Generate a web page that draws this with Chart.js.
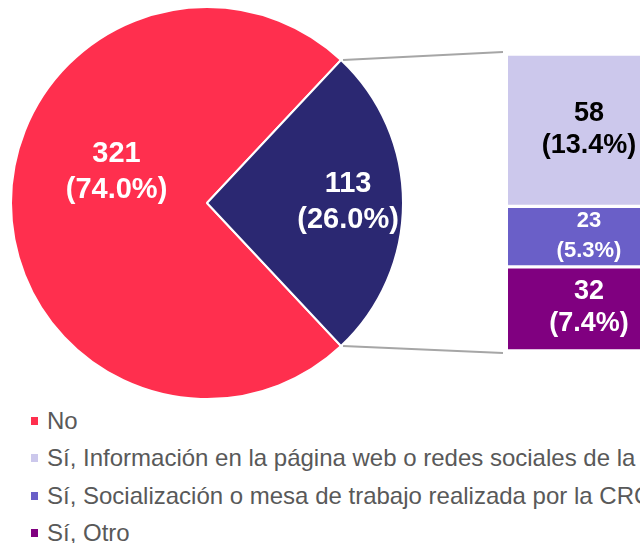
<!DOCTYPE html>
<html>
<head>
<meta charset="utf-8">
<script src="https://cdn.jsdelivr.net/npm/chart.js@4"></script>
<style>
  html, body { margin: 0; padding: 0; background: #fff; }
  #wrap { position: relative; width: 640px; height: 543px; overflow: hidden; font-family: "Liberation Sans", Arial, sans-serif; }
  #pie { position: absolute; left: 10px; top: 6px; }
  #bar { position: absolute; left: 508px; top: 54px; }
  #lines { position: absolute; left: 0; top: 0; }
  #legend { position: absolute; left: 0; top: 404px; width: 640px; }
  .item { position: absolute; left: 31px; padding-left: 16px; white-space: nowrap; font-size: 24px; color: #595959; height: 28px; line-height: 28px; }
  .box { position: absolute; left: 0; top: 10px; width: 7px; height: 8px; }
</style>
</head>
<body>
<div id="wrap">
  <canvas id="lines" width="640" height="400"></canvas>
  <canvas id="pie" width="394" height="394"></canvas>
  <canvas id="bar" width="162" height="297"></canvas>
  <div id="legend"></div>
</div>
<script>
// datos
let pieLabels = ['No', 'Sí'];
let pieValues = [321, 113];
let pieColors = ['#FF2F4E', '#2B2872'];

let barLabels = ['Sí, Información en la página web o redes sociales de la CRC',
                 'Sí, Socialización o mesa de trabajo realizada por la CRC',
                 'Sí, Otro'];
let barValues = [58, 23, 32];
let barColors = ['#CCC8EC', '#6A5FC8', '#800080'];
let barTextColors = ['#000000', '#ffffff', '#ffffff'];

let total = pieValues.reduce((a, b) => a + b, 0);
let pct = v => (v / total * 100).toFixed(1) + '%';

// label placement inside the pie (angle in degrees, fraction of radius)
let pieLabelPos = [{ ang: 199.6, r: 0.49 }, { ang: -1, r: 0.72 }];

var labelPlugin = {
    id: 'labels',
    afterDatasetsDraw(chart) {
        let ctx = chart.ctx;
        let meta = chart.getDatasetMeta(0);
        ctx.save();
        ctx.textAlign = 'center';
        ctx.textBaseline = 'middle';
        meta.data.forEach((arc, i) => {
            let p = pieLabelPos[i];
            let a = p.ang * Math.PI / 180;
            let x = arc.x + Math.cos(a) * arc.outerRadius * p.r;
            let y = arc.y + Math.sin(a) * arc.outerRadius * p.r;
            ctx.fillStyle = '#fff';
            ctx.font = 'bold 29px "Liberation Sans", Arial';
            ctx.fillText(pieValues[i], x, y - 17);
            ctx.fillText('(' + pct(pieValues[i]) + ')', x, y + 19);
        });
        ctx.restore();
    }
};

var pieChart = new Chart(document.getElementById('pie').getContext('2d'), {
    type: 'pie',
    data: {
        labels: pieLabels,
        datasets: [{
            data: pieValues,
            backgroundColor: pieColors,
            borderColor: '#fff',
            borderWidth: 2
        }]
    },
    options: {
        responsive: false,
        animation: false,
        // "Sí" centred on the right side
        rotation: 90 + pieValues[1] / total * 180,
        layout: { padding: 0 },
        plugins: { legend: { display: false }, tooltip: { enabled: false } }
    },
    plugins: [labelPlugin]
});

// stacked bar: first dataset ends at the bottom, so reverse
let order = [2, 1, 0];
var barLabelPlugin = {
    id: 'barlabels',
    afterDatasetsDraw(chart) {
        let ctx = chart.ctx;
        ctx.save();
        ctx.textAlign = 'center';
        ctx.textBaseline = 'middle';
        chart.data.datasets.forEach((ds, d) => {
            let i = order[d];
            let el = chart.getDatasetMeta(d).data[0];
            let cy = (el.y + el.base) / 2;
            let size = barValues[i] < 30 ? 22 : 27;
            let gap = barValues[i] < 30 ? 15 : 16;
            ctx.fillStyle = barTextColors[i];
            ctx.font = 'bold ' + size + 'px "Liberation Sans", Arial';
            ctx.fillText(barValues[i], el.x, cy - gap - 1);
            ctx.fillText('(' + pct(barValues[i]) + ')', el.x, cy + gap - 1);
        });
        ctx.restore();
    }
};

var barChart = new Chart(document.getElementById('bar').getContext('2d'), {
    type: 'bar',
    data: {
        labels: [''],
        datasets: order.map(i => ({
            label: barLabels[i],
            data: [barValues[i]],
            backgroundColor: barColors[i],
            borderColor: '#fff',
            borderWidth: { top: 2, bottom: 2, left: 0, right: 0 },
            borderSkipped: false,
            barPercentage: 1,
            categoryPercentage: 1
        }))
    },
    options: {
        responsive: false,
        animation: false,
        layout: { padding: 0 },
        scales: {
            x: { stacked: true, display: false },
            y: { stacked: true, display: false, min: 0, max: pieValues[1] }
        },
        plugins: { legend: { display: false }, tooltip: { enabled: false } }
    },
    plugins: [barLabelPlugin]
});

// connector lines between the "Sí" slice and the bar
(function () {
    let pieCv = document.getElementById('pie');
    let barCv = document.getElementById('bar');
    let arc = pieChart.getDatasetMeta(0).data[1];
    let ox = pieCv.offsetLeft, oy = pieCv.offsetTop;
    let bx = barCv.offsetLeft, by = barCv.offsetTop;
    let topEl = barChart.getDatasetMeta(2).data[0];
    let botEl = barChart.getDatasetMeta(0).data[0];
    let ctx = document.getElementById('lines').getContext('2d');
    ctx.strokeStyle = '#A6A6A6';
    ctx.lineWidth = 2;
    let p1 = [ox + arc.x + Math.cos(arc.startAngle) * arc.outerRadius + 2, oy + arc.y + Math.sin(arc.startAngle) * arc.outerRadius];
    let p2 = [ox + arc.x + Math.cos(arc.endAngle) * arc.outerRadius + 2, oy + arc.y + Math.sin(arc.endAngle) * arc.outerRadius];
    ctx.beginPath();
    ctx.moveTo(p1[0], p1[1]);
    ctx.lineTo(bx - 5, by + topEl.y - 2);
    ctx.moveTo(p2[0], p2[1]);
    ctx.lineTo(bx - 5, by + botEl.base + 2);
    ctx.stroke();
})();

// legend
let legend = document.getElementById('legend');
let allLabels = [pieLabels[0]].concat(barLabels);
let allColors = [pieColors[0]].concat(barColors);
allLabels.forEach((t, i) => {
    let d = document.createElement('div');
    d.className = 'item';
    d.style.top = (3 + i * 37.3) + 'px';
    d.innerHTML = '<span class="box" style="background:' + allColors[i] + '"></span>' + t;
    legend.appendChild(d);
});
</script>
</body>
</html>
